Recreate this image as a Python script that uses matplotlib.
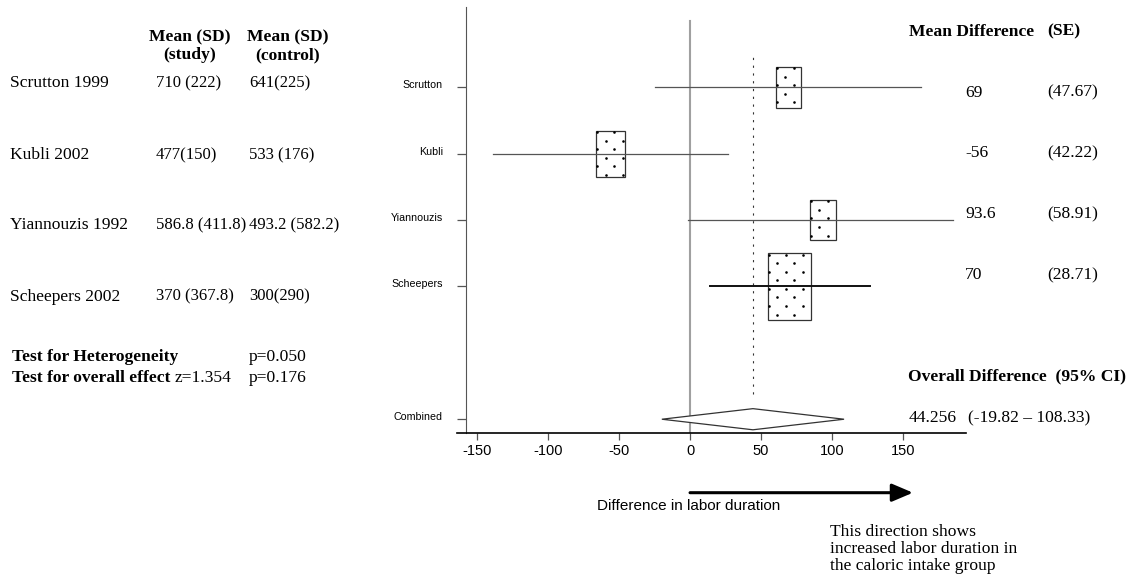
import numpy as np
import matplotlib.pyplot as plt
import matplotlib.transforms as mtransforms
from matplotlib.patches import Rectangle, Polygon

# Study data
studies = ['Scrutton', 'Kubli', 'Yiannouzis', 'Scheepers']
study_names = ['Scrutton 1999', 'Kubli 2002', 'Yiannouzis 1992', 'Scheepers 2002']
mean_sd_study = ['710 (222)', '477(150)', '586.8 (411.8)', '370 (367.8)']
mean_sd_control = ['641(225)', '533 (176)', '493.2 (582.2)', '300(290)']
mean_diff = [69, -56, 93.6, 70]
se = [47.67, 42.22, 58.91, 28.71]
ci_low = [-24.4, -138.8, -1.5, 13.7]
ci_high = [162.4, 26.8, 185.0, 126.3]

# Combined estimate
overall = 44.256
overall_low = -19.82
overall_high = 108.33
x_ticks = [-150, -100, -50, 0, 50, 100, 150]

# Box sizes (x in data units, y in row units)
box_w = [17.6, 20.1, 18.8, 30.7]
box_h = [0.617, 0.692, 0.606, 1.0]

W, H = 1135, 578
SERIF = 'Liberation Serif'
SANS = 'Liberation Sans'
FS = 12.6


def fx(x):
    return x / W


def fy(y):
    return 1 - y / H


fig = plt.figure(figsize=(W / 100, H / 100), dpi=100)
ax = fig.add_axes([457 / W, (H - 433.3) / H, 509 / W, 426.6 / H])

# spines first: moving a spine resets the ticks
ax.spines['top'].set_visible(False)
ax.spines['right'].set_visible(False)
ax.spines['left'].set_position(('data', -157.7))
ax.spines['left'].set_color('#555555')
ax.spines['bottom'].set_linewidth(1.2)

rows = [4, 3, 2, 1]
comb_row = -1
px_x = 1 / 1.422   # data units per pixel (x)
px_y = 1 / 66.0    # row units per pixel (y)

# reference lines
ax.plot([0, 0], [comb_row - 0.3, 5.0], color='#a0a0a0', lw=1.5, zorder=1)
ax.plot([overall, overall], [-0.617, 4.45], color='#333333', lw=0.8,
        linestyle=(0, (2, 5)), zorder=1)

for i, r in enumerate(rows):
    m = mean_diff[i]
    w, h = box_w[i], box_h[i]
    ax.add_patch(Rectangle((m - w / 2, r - h / 2), w, h, facecolor='white',
                           edgecolor='#333333', lw=0.9, zorder=2))
    # dotted fill
    left, top = m - w / 2, r + h / 2
    xs, ys = [], []
    nx = int((w / px_x - 2) // 8.5) + 1
    ny = int((h / px_y - 2) // 8.5) + 1
    for j in range(ny):
        for k in range(nx):
            if (j + k) % 2 == 0:
                xs.append(left + (1.2 + 8.5 * k) * px_x)
                ys.append(top - (1.5 + 8.5 * j) * px_y)
    ax.scatter(xs, ys, s=3.5, color='black', zorder=3, linewidths=0)
    lw = 1.4 if i == 3 else 0.9
    col = '#111111' if i == 3 else '#555555'
    ax.plot([ci_low[i], ci_high[i]], [r, r], color=col, lw=lw, zorder=4)

# combined diamond
dh = 10.5 * px_y
ax.add_patch(Polygon([[overall_low, comb_row], [overall, comb_row + dh],
                      [overall_high, comb_row], [overall, comb_row - dh]],
                     closed=True, facecolor='white', edgecolor='#333333',
                     lw=0.9, zorder=2))

ax.set_xlim(-163.9, 194.1)
ax.set_ylim(-1.212, 5.212)
ax.tick_params(axis='y', length=6.3, pad=10.3, color='#555555', width=0.9)
ax.tick_params(axis='x', length=4.8, pad=3.0, color='#555555', width=0.9)
ax.set_xticks(x_ticks)
ax.set_xticklabels([str(t) for t in x_ticks], fontfamily=SANS, fontsize=10.5)
ax.set_yticks(rows + [comb_row])
ax.set_yticklabels(studies + ['Combined'], fontfamily=SANS, fontsize=7.7)
shift = mtransforms.ScaledTranslation(0, 3 / 100, fig.dpi_scale_trans)
for lab in ax.get_yticklabels():
    lab.set_transform(lab.get_transform() + shift)

# arrow below the axis
yarr = fy(492.7)
ax.annotate('', xy=(156.8, yarr), xytext=(0, yarr),
            xycoords=('data', 'figure fraction'),
            textcoords=('data', 'figure fraction'),
            arrowprops=dict(arrowstyle='-|>,head_length=0.4,head_width=0.17',
                            lw=2.2, color='black', mutation_scale=32,
                            shrinkA=0, shrinkB=0),
            annotation_clip=False)
fig.text(fx(689), fy(506), 'Difference in labor duration', fontfamily=SANS,
         fontsize=11, ha='center', va='center')
fig.text(fx(830), fy(549), 'This direction shows\nincreased labor duration in\nthe caloric intake group',
         fontfamily=SERIF, fontsize=FS, ha='left', va='center', linespacing=1.1)

# left table
fig.text(fx(190), fy(37), 'Mean (SD)', fontfamily=SERIF, fontsize=FS,
         fontweight='bold', ha='center', va='center')
fig.text(fx(190), fy(55), '(study)', fontfamily=SERIF, fontsize=FS,
         fontweight='bold', ha='center', va='center')
fig.text(fx(288), fy(37), 'Mean (SD)', fontfamily=SERIF, fontsize=FS,
         fontweight='bold', ha='center', va='center')
fig.text(fx(288), fy(55), '(control)', fontfamily=SERIF, fontsize=FS,
         fontweight='bold', ha='center', va='center')

left_rows = [83.3, 155, 225, 296.7]
for i, yy in enumerate(left_rows):
    fig.text(fx(10), fy(yy), study_names[i], fontfamily=SERIF, fontsize=FS, va='center')
    fig.text(fx(155.5), fy(yy), mean_sd_study[i], fontfamily=SERIF, fontsize=12, va='center')
    fig.text(fx(249), fy(yy), mean_sd_control[i], fontfamily=SERIF, fontsize=12, va='center')

fig.text(fx(11.7), fy(356.7), 'Test for Heterogeneity', fontfamily=SERIF,
         fontsize=FS, fontweight='bold', va='center')
fig.text(fx(248.3), fy(356.7), 'p=0.050', fontfamily=SERIF, fontsize=FS, va='center')
fig.text(fx(11.7), fy(378.3), 'Test for overall effect', fontfamily=SERIF,
         fontsize=FS, fontweight='bold', va='center')
fig.text(fx(175), fy(378.3), 'z=1.354', fontfamily=SERIF, fontsize=FS, va='center')
fig.text(fx(248.3), fy(378.3), 'p=0.176', fontfamily=SERIF, fontsize=FS, va='center')

# right table
fig.text(fx(909), fy(31.7), 'Mean Difference', fontfamily=SERIF, fontsize=FS,
         fontweight='bold', va='center')
fig.text(fx(1047.7), fy(31.7), '(SE)', fontfamily=SERIF, fontsize=FS,
         fontweight='bold', va='center')
right_rows = [92.7, 153.3, 214.3, 275]
for i, yy in enumerate(right_rows):
    fig.text(fx(965), fy(yy), f'{mean_diff[i]:g}', fontfamily=SERIF, fontsize=FS, va='center')
    fig.text(fx(1047.7), fy(yy), f'({se[i]:.2f})', fontfamily=SERIF, fontsize=FS, va='center')

fig.text(fx(908.3), fy(376.7), 'Overall Difference  (95% CI)', fontfamily=SERIF,
         fontsize=FS, fontweight='bold', va='center')
fig.text(fx(908.3), fy(418.3), f'{overall:g}', fontfamily=SERIF, fontsize=FS, va='center')
fig.text(fx(968.3), fy(418.3), f'({overall_low:.2f} \u2013 {overall_high:.2f})',
         fontfamily=SERIF, fontsize=FS, va='center')

fig.savefig('out.png', dpi=100)
